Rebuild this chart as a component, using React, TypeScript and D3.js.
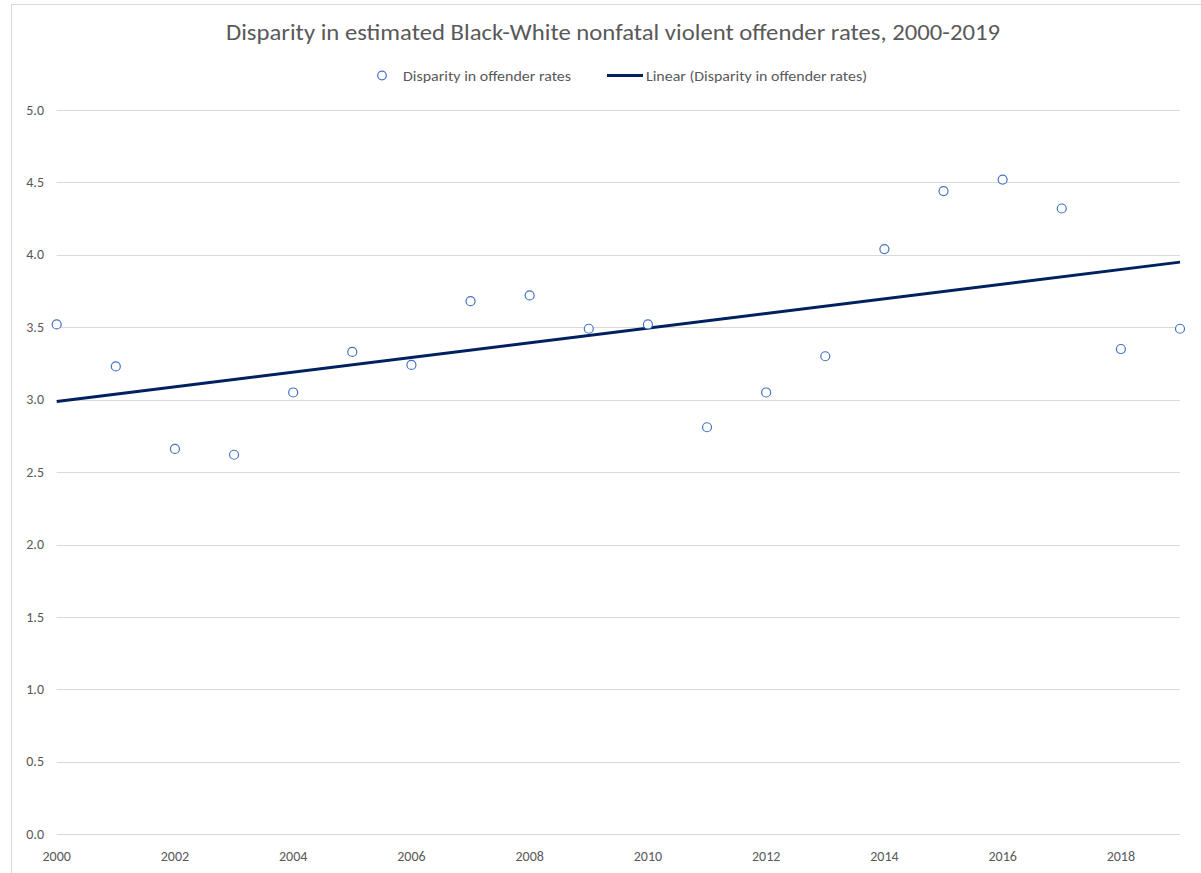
import React from "react";
import * as d3 from "d3";

const years: number[] = [2000, 2001, 2002, 2003, 2004, 2005, 2006, 2007, 2008, 2009, 2010, 2011, 2012, 2013, 2014, 2015, 2016, 2017, 2018, 2019];
const disparity: number[] = [3.52, 3.23, 2.66, 2.62, 3.05, 3.33, 3.24, 3.68, 3.72, 3.49, 3.52, 2.81, 3.05, 3.30, 4.04, 4.44, 4.52, 4.32, 3.35, 3.49];
const yTicks: number[] = [0, 0.5, 1, 1.5, 2, 2.5, 3, 3.5, 4, 4.5, 5];
const xTicks: number[] = [2000, 2002, 2004, 2006, 2008, 2010, 2012, 2014, 2016, 2018];
const title = "Disparity in estimated Black-White nonfatal violent offender rates, 2000-2019";
const seriesName = "Disparity in offender rates";
const trendName = "Linear (Disparity in offender rates)";

const W = 1201;
const H = 873;
const FONT = "Carlito, Calibri, Lato, 'Liberation Sans', sans-serif";

export default function App() {
  const x = d3.scaleLinear().domain([2000, 2019]).range([56.7, 1180]);
  const y = d3.scaleLinear().domain([0, 5]).range([834.3, 110]);

  // least-squares linear trend
  const mx = d3.mean(years)!;
  const my = d3.mean(disparity)!;
  const num = d3.sum(years.map((yr, i) => (yr - mx) * (disparity[i] - my)));
  const den = d3.sum(years.map((yr) => (yr - mx) * (yr - mx)));
  const slope = num / den;
  const intercept = my - slope * mx;
  const trend = [2000, 2019].map((yr) => [yr, intercept + slope * yr] as [number, number]);
  const line = d3.line<[number, number]>().x((d) => x(d[0])).y((d) => y(d[1]));

  return (
    <svg width={W} height={H} style={{ position: "absolute", left: 0, top: 0, background: "#fff" }} fontFamily={FONT}>
      <rect x={11.5} y={4.5} width={W + 10} height={H + 10} fill="#fff" stroke="#d9d9d9" strokeWidth={1} />
      <text x={226} y={40} textLength={774} lengthAdjust="spacingAndGlyphs" fontSize={22} fill="#595959">{title}</text>
      {/* legend */}
      <circle cx={382} cy={75.5} r={4.3} fill="#fff" stroke="#4472C4" strokeWidth={1.2} />
      <text x={403} y={80.5} textLength={168} lengthAdjust="spacingAndGlyphs" fontSize={15} fill="#595959">{seriesName}</text>
      <line x1={607} x2={643} y1={75.5} y2={75.5} stroke="#002060" strokeWidth={3} />
      <text x={646} y={80.5} textLength={221} lengthAdjust="spacingAndGlyphs" fontSize={15} fill="#595959">{trendName}</text>
      {/* grid */}
      {yTicks.map((t) => (
        <g key={t}>
          <line x1={56.7} x2={1180} y1={Math.round(y(t)) + 0.5} y2={Math.round(y(t)) + 0.5} stroke="#d9d9d9" strokeWidth={1} />
          <text x={44} y={y(t) + 4.5} textAnchor="end" fontSize={14} fill="#595959">{t.toFixed(1)}</text>
        </g>
      ))}
      {xTicks.map((t) => (
        <text key={t} x={x(t)} y={861} textAnchor="middle" fontSize={14} fill="#595959">{t}</text>
      ))}
      <path d={line(trend)!} fill="none" stroke="#002060" strokeWidth={3} />
      {years.map((yr, i) => (
        <circle key={yr} cx={x(yr)} cy={y(disparity[i])} r={4.5} fill="#fff" stroke="#4472C4" strokeWidth={1.2} />
      ))}
    </svg>
  );
}
